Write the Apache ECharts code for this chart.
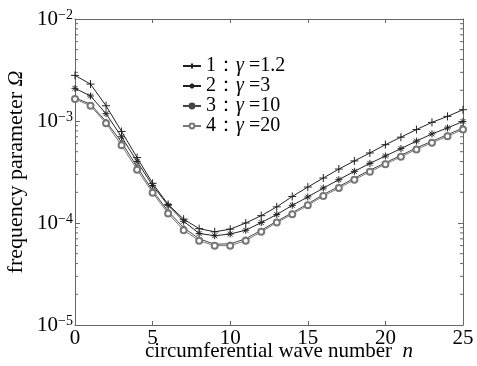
<!DOCTYPE html>
<html><head><meta charset="utf-8">
<script src="https://cdn.jsdelivr.net/npm/echarts@6/dist/echarts.min.js"></script>
<style>html,body{margin:0;padding:0;background:#fff}#c{width:477px;height:366px}</style>
</head><body><div id="c"></div>
<script>
const nVals = [0,1,2,3,4,5,6,7,8,9,10,11,12,13,14,15,16,17,18,19,20,21,22,23,24,25];
const names = ['1：γ =1.2','2：γ =3','3：γ =10','4：γ =20'];
const s1 = [2.8e-3,2.3e-3,1.41e-3,7.9e-4,4.38e-4,2.45e-4,1.52e-4,1.09e-4,8.8e-5,8.2e-5,8.7e-5,1.0e-4,1.18e-4,1.44e-4,1.82e-4,2.25e-4,2.76e-4,3.38e-4,4.06e-4,4.86e-4,5.86e-4,6.94e-4,8.24e-4,9.7e-4,1.11e-3,1.29e-3];
const s2 = [2.09e-3,1.76e-3,1.18e-3,7.0e-4,4.01e-4,2.33e-4,1.49e-4,1.04e-4,7.9e-5,7.5e-5,7.8e-5,8.5e-5,1.01e-4,1.21e-4,1.49e-4,1.80e-4,2.20e-4,2.66e-4,3.21e-4,3.84e-4,4.54e-4,5.36e-4,6.35e-4,7.48e-4,8.55e-4,9.9e-4];
const s3 = [1.69e-3,1.46e-3,9.9e-4,6.2e-4,3.55e-4,2.08e-4,1.30e-4,9.0e-5,7.0e-5,6.2e-5,6.25e-5,7.0e-5,8.5e-5,1.04e-4,1.26e-4,1.54e-4,1.90e-4,2.28e-4,2.75e-4,3.29e-4,3.90e-4,4.61e-4,5.45e-4,6.33e-4,7.35e-4,8.53e-4];
const s4 = [1.64e-3,1.41e-3,9.5e-4,5.77e-4,3.33e-4,1.98e-4,1.24e-4,8.5e-5,6.7e-5,6.0e-5,6.0e-5,6.7e-5,8.2e-5,1.01e-4,1.22e-4,1.49e-4,1.84e-4,2.20e-4,2.66e-4,3.18e-4,3.77e-4,4.45e-4,5.27e-4,6.12e-4,7.10e-4,8.24e-4];
const minorTickVals = [2e-5,3e-5,4e-5,5e-5,6e-5,7e-5,8e-5,9e-5,2e-4,3e-4,4e-4,5e-4,6e-4,7e-4,8e-4,9e-4,2e-3,3e-3,4e-3,5e-3,6e-3,7e-3,8e-3,9e-3];

const FONT = 'Liberation Serif';
const AX = '#666';
const chart = echarts.init(document.getElementById('c'));
const pair = arr => nVals.map((n,i)=>[n,arr[i]]);
const plusSym = 'path://M0,-1L0,1M-1,0L1,0';
const starSym = 'path://M0,-1L0,1M-1,0L1,0M-0.7,-0.7L0.7,0.7M-0.7,0.7L0.7,-0.7';
function lineSeries(name, data, symbol, size, color, fill){
  return {type:'line', name, data:pair(data), symbol, symbolSize:size, showSymbol:true, showAllSymbol:true,
    lineStyle:{color, width:1, type:'solid'}, itemStyle:{color:fill, borderColor:color, borderWidth:1},
    emphasis:{disabled:true}, animation:false, z:3};
}
const legendFmt = name => {
  const m = name.match(/^(\d)：γ (.*)$/);
  return '{t|' + m[1] + '：}{g|γ}{t| ' + m[2] + '}';
};
chart.setOption({
  animation:false,
  grid:{left:75, right:14, top:19, bottom:41, containLabel:false, outerBoundsMode:'none'},
  legend:{
    data:names, orient:'vertical', left:177, top:51, itemWidth:18, itemHeight:6, itemGap:0,
    formatter: legendFmt,
    textStyle:{fontFamily:FONT, fontSize:20, color:'#000', lineHeight:20,
      rich:{t:{fontFamily:FONT, fontSize:20, color:'#000', lineHeight:20}, g:{fontFamily:FONT, fontSize:20, fontStyle:'italic', color:'#000', lineHeight:20}}}
  },
  xAxis:[
    {type:'value', min:0, max:25, interval:5, position:'bottom',
     axisLine:{show:true, onZero:false, lineStyle:{color:AX}},
     axisTick:{show:true, inside:true, length:4, lineStyle:{color:AX}},
     axisLabel:{fontFamily:FONT, fontSize:21, color:'#000', margin:3},
     splitLine:{show:false},
     name:'{a|circumferential wave number  }{b|n}', nameLocation:'middle', nameGap:16, nameMoveOverlap:false,
     nameTextStyle:{padding:[0,0,0,20], rich:{a:{fontFamily:FONT,fontSize:21,color:'#000'}, b:{fontFamily:FONT,fontSize:21,fontStyle:'italic',color:'#000'}}}},
    {type:'value', min:0, max:25, interval:5, position:'top',
     axisLine:{show:true, onZero:false, lineStyle:{color:AX}},
     axisTick:{show:true, inside:true, length:4, lineStyle:{color:AX}},
     axisLabel:{show:false}, splitLine:{show:false}}
  ],
  yAxis:[
    {type:'log', logBase:10, min:1e-5, max:1e-2, position:'left',
     axisLine:{show:true, onZero:false, lineStyle:{color:AX}},
     axisTick:{show:true, inside:true, length:5, lineStyle:{color:AX}},
     splitLine:{show:false},
     axisLabel:{margin:2, formatter: v => {
        const e = Math.round(Math.log10(v));
        return '{b|10}{e|' + (e<0?'−':'') + Math.abs(e) + '}';
      }, rich:{b:{fontFamily:FONT,fontSize:21,color:'#000',verticalAlign:'bottom',lineHeight:22, padding:[8,0,0,0]},
               e:{fontFamily:FONT,fontSize:14,color:'#000',verticalAlign:'top',lineHeight:22}}},
     name:'{a|frequency parameter }{b|Ω}', nameLocation:'middle', nameGap:48, nameRotate:90, nameMoveOverlap:false,
     nameTextStyle:{rich:{a:{fontFamily:FONT,fontSize:22,color:'#000'}, b:{fontFamily:FONT,fontSize:22,fontStyle:'italic',color:'#000'}}}},
    {type:'log', logBase:10, min:1e-5, max:1e-2, position:'right',
     axisLine:{show:true, onZero:false, lineStyle:{color:AX}},
     axisTick:{show:true, inside:true, length:5, lineStyle:{color:AX}},
     axisLabel:{show:false}, splitLine:{show:false}}
  ],
  series:[
    lineSeries(names[0], s1, plusSym, 8, '#222', 'none'),
    lineSeries(names[1], s2, starSym, 7, '#222', 'none'),
    lineSeries(names[2], s3, 'circle', 3.5, '#444', '#444'),
    lineSeries(names[3], s4, 'emptyCircle', 6, '#777', '#777'),
    {type:'custom', name:'minorTicks', xAxisIndex:0, yAxisIndex:0, silent:true, animation:false,
     data: minorTickVals.map(v=>[0,v]),
     renderItem:(params, api) => {
       const v = api.value(1);
       const l = api.coord([0, v]);
       const r = api.coord([25, v]);
       const st = {stroke:AX, lineWidth:1};
       return {type:'group', children:[
         {type:'line', shape:{x1:l[0], y1:l[1], x2:l[0]+3, y2:l[1]}, style:st},
         {type:'line', shape:{x1:r[0], y1:r[1], x2:r[0]-3, y2:r[1]}, style:st}
       ]};
     }}
  ]
});
</script></body></html>
